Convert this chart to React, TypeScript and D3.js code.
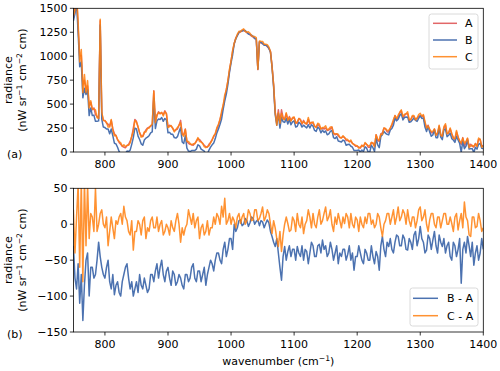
import React from "react";
import * as d3 from "d3";

// sampling grid of the spectra (cm-1)
const wavenumbers = d3.range(750, 1400.1, 2.5);

// spectrum A (nW sr-1 cm-2 cm), one value every 2.5 cm-1, 50 cm-1 per row
const radianceA = [
  1400, 1520, 1650, 1300, 1000, 1010, 700, 750, 650, 690, 480, 520, 440, 460, 390, 370, 350, 1370, 400, 330,
  330, 300, 290, 270, 330, 240, 190, 170, 130, 100, 80, 60, 50, 45, 65, 80, 110, 160, 250, 340,
  320, 260, 200, 170, 160, 200, 230, 250, 260, 270, 280, 640, 310, 380, 420, 400, 410, 390, 430, 400,
  260, 280, 270, 250, 220, 230, 240, 280, 330, 190, 180, 240, 110, 90, 80, 75, 70, 90, 110, 140,
  130, 110, 90, 70, 55, 50, 80, 100, 130, 160, 190, 240, 280, 340, 400, 480, 560, 650, 740, 850,
  950, 1050, 1130, 1190, 1220, 1245, 1255, 1265, 1270, 1260, 1245, 1235, 1225, 1210, 1200, 1185, 1175, 860, 1150, 1140,
  1130, 1120, 1115, 1100, 1080, 1050, 900, 700, 420, 300, 440, 310, 440, 360, 340, 400, 330, 370, 330, 350,
  360, 310, 300, 350, 340, 290, 330, 300, 290, 340, 290, 310, 300, 270, 260, 290, 270, 240, 250, 240,
  250, 225, 230, 240, 260, 200, 180, 190, 170, 150, 150, 160, 150, 120, 120, 110, 110, 90, 80, 60,
  60, 50, 40, 70, 60, 90, 80, 50, 50, 100, 90, 60, 180, 120, 110, 190, 200, 250, 240, 210,
  210, 250, 280, 320, 380, 340, 360, 410, 430, 350, 380, 400, 400, 330, 340, 370, 370, 340, 350, 370,
  380, 370, 380, 300, 250, 280, 230, 200, 200, 240, 180, 190, 270, 180, 160, 250, 280, 190, 200, 240,
  190, 150, 130, 210, 160, 110, 80, 150, 60, 100, 140, 60, 80, 60, 50, 90, 60, 130, 130, 60,
  70,
];

// B - A
const diffBA = [
  -30, -75, -90, -55, -110, -70, -134, -85, -50, -40, -100, -60, -60, -75, -70, -50, -25, -45, -60, -70,
  -75, -60, -50, -80, -90, -70, -98, -85, -80, -95, -100, -80, -70, -60, -55, -75, -90, -80, -100, -90,
  -80, -95, -70, -85, -90, -75, -85, -95, -90, -70, -70, -80, -65, -55, -75, -60, -50, -70, -80, -65,
  -60, -75, -85, -65, -70, -85, -80, -70, -75, -85, -90, -70, -70, -80, -75, -60, -55, -75, -80, -65,
  -65, -80, -70, -60, -85, -70, -60, -50, -55, -65, -50, -40, -40, -50, -55, -35, -25, -45, -35, -20,
  -20, -35, 0, -10, -5, 5, 6, -2, 0, 8, 5, -3, 2, 10, 8, 0, 4, 6, -2, 5,
  3, -5, 1, 6, 2, -10, -17, -25, -31, -20, -40, -60, -78, -45, -31, -50, -38, -30, -45, -35,
  -35, -50, -31, -40, -45, -30, -50, -35, -38, -55, -40, -25, -30, -45, -45, -30, -28, -40, -22, -35,
  -30, -45, -40, -25, -35, -50, -40, -30, -55, -40, -45, -35, -35, -50, -42, -30, -50, -40, -64, -45,
  -45, -30, -40, -50, -55, -35, -40, -50, -50, -30, -45, -55, -38, -45, -64, -30, -17, -35, -45, -25,
  -31, -20, -35, -40, -25, -15, -17, -30, -30, -15, -20, -35, -36, -20, -25, -35, -15, -10, -30, -20,
  -3, -20, -25, -40, -36, -15, -20, -35, -22, -10, -30, -40, -15, -25, -31, -20, -40, -30, -25, -45,
  -50, -25, -30, -45, -35, -20, -82, -35, -25, -40, -17, -30, -45, -25, -57, -40, -30, -50, -40, -20,
  -35,
];

// C - A
const diffCA = [
  20, -40, 10, 55, -60, 60, -80, 60, -30, 55, -20, 15, 10, -10, 50, -10, 0, 15, 20, 0,
  -5, 10, -30, -10, 10, -5, -20, 5, 0, 10, 15, 0, 25, 10, 5, -10, -15, 5, -36, -10,
  -10, 5, 0, -15, 5, 10, -20, -5, -10, 5, 10, -5, -5, 10, -10, 0, 5, -15, -10, 0,
  -5, -15, 5, -5, -10, 5, 15, 0, -25, -5, -15, -5, 0, 20, 10, 0, 15, -5, 5, 10,
  -20, -5, 0, -15, -10, 5, -15, -5, -5, 10, 0, 15, 10, 0, 25, 10, 36, 0, 5, 15,
  0, 10, 5, -5, 10, 15, 1, 10, 15, 0, 5, 20, 15, 5, 6, 20, 20, 5, 8, 15,
  24, 5, 10, 20, 15, 0, -13, 5, -5, -20, -31, -10, -38, -15, 0, 10, 1, -10, -8, 10,
  5, -10, 15, 0, -5, 10, -13, 0, 5, 20, 10, -5, 15, 0, -5, 10, 20, 0, 5, 15,
  24, 5, 10, 20, 0, -10, 10, 0, 15, 5, -5, 10, 1, 15, 10, -5, 15, 0, -5, 10,
  6, -10, 10, 0, -5, 10, 1, 15, 15, 0, 6, -5, 0, 15, 10, -5, -17, 0, 5, 15,
  15, 0, 10, 20, 0, 10, 24, 5, 10, 20, 15, 0, 20, 5, -3, 10, 10, -5, 5, 20,
  24, 5, 10, 20, 0, -10, 6, 15, 15, 0, -5, 10, 10, -5, 5, 15, 15, 0, 0, 10,
  1, -10, 10, 15, -8, 5, 15, -5, 31, 10, 5, -15, -17, 10, 10, -5, -3, 15, 5, -10,
  -5,
];

const xTicks = [800, 900, 1000, 1100, 1200, 1300, 1400];
const yTicksTop = [0, 250, 500, 750, 1000, 1250, 1500];
const yTicksBottom = [-150, -100, -50, 0, 50];

const radianceB = radianceA.map((v, i) => v + diffBA[i]);
const radianceC = radianceA.map((v, i) => v + diffCA[i]);

const W = 500;
const H = 371;
const left = 73.4;
const right = 483.3;
const font = "DejaVu Sans, sans-serif";
const fs = 11;

const x = d3.scaleLinear().domain([750, 1400]).range([left, right]);

type Series = { name: string; values: number[]; color: string; opacity: number };

function Unit({ cx, cy }: { cx: number; cy: number }) {
  return (
    <g transform={`translate(${cx},${cy}) rotate(-90)`} fontFamily={font} fontSize={fs} fill="#000">
      <text x={0} y={-14} textAnchor="middle">radiance</text>
      <text x={0} y={0} textAnchor="middle">
        (nW sr<tspan fontSize={7.7} dy={-4}>−1</tspan>
        <tspan dy={4}> cm</tspan>
        <tspan fontSize={7.7} dy={-4}>−2</tspan>
        <tspan dy={4}> cm)</tspan>
      </text>
    </g>
  );
}

function Panel({
  id, top, bottom, domain, ticks, series, legend, tag,
}: {
  id: string; top: number; bottom: number; domain: [number, number]; ticks: number[];
  series: Series[]; legend: { x0: number; x1: number; y0: number; rows: number[]; lineX: [number, number]; textX: number };
  tag: string;
}) {
  const y = d3.scaleLinear().domain(domain).range([bottom, top]);
  const line = d3
    .line<number>()
    .x((_, i) => x(wavenumbers[i]))
    .y((d) => y(d));

  return (
    <g>
      <defs>
        <clipPath id={id}>
          <rect x={left} y={top} width={right - left} height={bottom - top} />
        </clipPath>
      </defs>
      <g clipPath={`url(#${id})`}>
        {series.map((s) => (
          <path key={s.name} d={line(s.values) ?? ""} fill="none" stroke={s.color} strokeOpacity={s.opacity}
            strokeWidth={1.5} strokeLinejoin="round" />
        ))}
      </g>
      <rect x={left} y={top} width={right - left} height={bottom - top} fill="none" stroke="#000" strokeWidth={0.8} />
      {xTicks.map((t) => (
        <g key={t}>
          <line x1={x(t)} x2={x(t)} y1={bottom} y2={bottom + 3.5} stroke="#000" strokeWidth={0.8} />
          <text x={x(t)} y={bottom + 15.5} textAnchor="middle" fontFamily={font} fontSize={fs}>{t}</text>
        </g>
      ))}
      {ticks.map((t) => (
        <g key={t}>
          <line x1={left - 3.5} x2={left} y1={y(t)} y2={y(t)} stroke="#000" strokeWidth={0.8} />
          <text x={left - 6} y={y(t) + 4} textAnchor="end" fontFamily={font} fontSize={fs}>
            {t < 0 ? `−${-t}` : t}
          </text>
        </g>
      ))}
      <text x={7} y={bottom + 6} fontFamily={font} fontSize={fs}>{tag}</text>
      <Unit cx={26} cy={(top + bottom) / 2} />
      <rect x={legend.x0} y={legend.y0} width={legend.x1 - legend.x0} height={legend.rows.length * 17 + 4}
        rx={2.5} fill="#fff" fillOpacity={0.8} stroke="#d0d0d0" strokeWidth={0.8} />
      {series.map((s, i) => (
        <g key={s.name}>
          <line x1={legend.lineX[0]} x2={legend.lineX[1]} y1={legend.rows[i]} y2={legend.rows[i]}
            stroke={s.color} strokeOpacity={s.opacity} strokeWidth={1.5} />
          <text x={legend.textX} y={legend.rows[i] + 4} fontFamily={font} fontSize={fs}>{s.name}</text>
        </g>
      ))}
    </g>
  );
}

export default function App() {
  return (
    <svg width={W} height={H} style={{ position: "absolute", left: 0, top: 0, background: "#fff" }}>
      <Panel
        id="clip-a"
        top={8.3}
        bottom={152}
        domain={[0, 1500]}
        ticks={yTicksTop}
        tag="(a)"
        series={[
          { name: "A", values: radianceA, color: "#d62728", opacity: 0.7 },
          { name: "B", values: radianceB, color: "#4c72b0", opacity: 1 },
          { name: "C", values: radianceC, color: "#ff7f0e", opacity: 0.85 },
        ]}
        legend={{ x0: 429, x1: 478, y0: 14, rows: [23.3, 40, 56.7], lineX: [433, 457], textX: 465 }}
      />
      <Panel
        id="clip-b"
        top={188.3}
        bottom={332}
        domain={[-150, 50]}
        ticks={yTicksBottom}
        tag="(b)"
        series={[
          { name: "B - A", values: diffBA, color: "#4c72b0", opacity: 1 },
          { name: "C - A", values: diffCA, color: "#ff7f0e", opacity: 0.85 },
        ]}
        legend={{ x0: 410, x1: 478, y0: 288, rows: [298.3, 315.7], lineX: [413, 438], textX: 447 }}
      />
      <text x={(left + right) / 2} y={365} textAnchor="middle" fontFamily={font} fontSize={fs}>
        wavenumber (cm<tspan fontSize={7.7} dy={-4}>−1</tspan><tspan dy={4}>)</tspan>
      </text>
    </svg>
  );
}
